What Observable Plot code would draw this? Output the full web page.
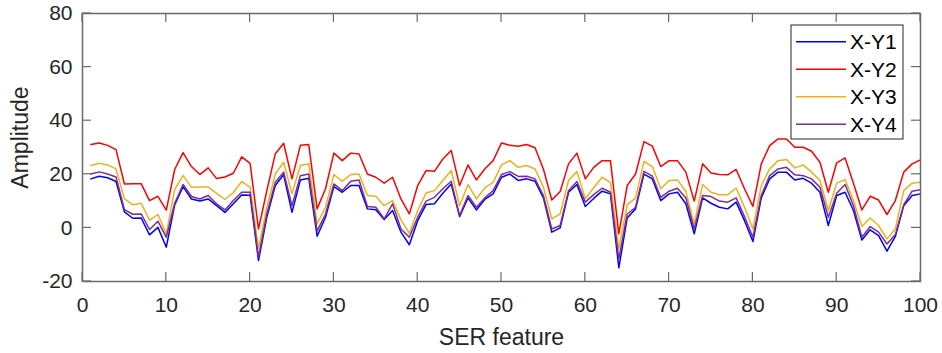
<!DOCTYPE html>
<html>
<head>
<meta charset="utf-8">
<script src="https://cdn.jsdelivr.net/npm/d3@7"></script>
<script src="https://cdn.jsdelivr.net/npm/@observablehq/plot@0.6"></script>
<style>
  html, body { margin: 0; padding: 0; background: #fff; }
  #chart { width: 942px; height: 353px; }
</style>
</head>
<body>
<div id="chart"></div>
<script>
const seriesNames = ["X-Y1", "X-Y2", "X-Y3", "X-Y4"];
const seriesColors = ["#0000FF", "#FF0000", "#EDB120", "#7E2F8E"];
const xTicks = [0, 10, 20, 30, 40, 50, 60, 70, 80, 90, 100];
const yTicks = [-20, 0, 20, 40, 60, 80];
const xLabel = "SER feature";
const yLabel = "Amplitude";

const y1 = [18.3,19.3,18.7,17.3,6.0,3.6,3.7,-2.6,0.2,-7.2,8.6,15.4,10.8,10.0,10.8,8.3,5.8,9.0,12.3,12.2,
-12.2,4.0,15.8,19.8,5.8,17.9,18.5,-3.1,4.0,15.4,13.3,15.8,15.8,7.1,6.8,3.1,6.5,-1.6,-6.3,2.7,
8.7,9.0,12.9,16.4,4.2,11.2,6.7,10.6,12.7,18.9,20.1,17.7,18.3,17.4,11.2,-1.6,0.0,13.3,16.2,8.0,
11.0,13.7,12.7,-14.9,3.7,7.1,20.1,18.3,10.2,12.7,13.3,9.0,-2.2,11.2,9.2,7.7,7.1,9.6,2.7,-5.1,
11.2,18.3,20.8,20.8,17.9,18.5,16.7,13.3,0.9,12.1,13.3,6.5,-4.5,-0.7,-2.9,-8.7,-3.2,8.3,12.1,12.7];

const y2 = [31.1,31.7,30.8,29.2,16.4,16.5,16.5,10.2,11.8,6.6,21.8,28.1,22.9,19.9,22.4,18.4,19.0,20.4,26.5,24.1,
-0.4,13.9,27.6,31.6,18.3,30.8,31.1,7.1,14.6,27.9,25.1,27.9,27.6,20.1,18.9,16.7,18.9,10.8,5.2,15.8,
21.4,21.1,25.7,28.9,15.8,23.5,17.9,22.0,25.1,31.7,30.8,30.5,31.1,29.9,22.0,10.4,13.6,23.9,27.9,18.3,
22.6,25.1,25.1,-2.2,15.8,20.1,32.2,30.5,22.9,25.1,25.1,20.8,10.0,23.9,20.5,19.9,19.8,21.8,14.6,8.0,
23.9,30.7,33.2,33.2,30.1,30.1,28.6,24.5,13.3,24.3,26.1,16.7,6.7,11.8,10.4,5.0,10.2,20.8,23.9,25.4];

const y3 = [23.3,24.1,23.5,22.0,10.9,8.6,9.2,2.9,5.0,-2.2,14.4,19.5,15.2,15.3,15.3,12.9,10.6,13.2,17.3,15.2,
-7.6,7.7,20.1,24.5,12.7,23.3,23.9,1.5,7.7,19.9,17.4,19.9,20.1,12.1,11.8,8.3,10.2,3.0,-2.0,6.5,
13.0,13.9,17.7,21.4,8.3,16.2,10.8,14.9,17.0,23.5,25.1,22.6,23.3,22.0,15.2,3.4,5.2,17.7,21.0,10.9,
15.0,18.9,17.0,-7.8,8.6,11.2,24.8,22.9,14.6,17.7,17.9,13.6,1.5,16.2,13.3,12.4,12.4,14.9,7.7,-0.4,
15.8,22.0,25.1,25.5,22.4,23.5,20.8,17.7,6.5,16.7,18.0,10.2,0.5,3.7,0.9,-4.1,-0.4,13.9,16.7,17.0];

const y4 = [20.1,20.9,20.1,19.0,6.8,5.1,5.2,-0.6,2.5,-3.5,9.2,16.2,11.7,10.8,12.1,9.0,6.7,10.2,13.3,13.3,
-10.9,5.2,17.0,20.8,8.3,19.5,20.1,-1.2,5.2,16.4,13.9,17.4,17.9,8.0,7.7,3.4,9.0,-0.4,-3.5,4.0,
10.0,11.4,14.6,17.4,4.6,12.1,7.7,11.2,13.9,19.9,21.0,19.2,19.3,18.3,12.1,-0.4,0.9,13.9,17.3,9.6,
12.4,14.8,13.3,-11.6,5.2,7.7,21.1,19.3,11.4,13.7,14.8,11.2,-0.4,12.1,11.7,10.0,9.6,11.2,4.2,-3.5,
12.1,19.5,22.0,22.6,19.8,19.5,18.3,15.2,4.0,12.9,16.2,8.3,-3.5,0.5,-1.6,-6.0,-2.5,8.7,13.7,14.2];

const allSeries = [y1, y2, y3, y4];
const data = [];
allSeries.forEach((vals, s) => {
  vals.forEach((v, i) => data.push({x: i + 1, y: v, series: seriesNames[s]}));
});

const axisColor = "#6a6a6a";
const textColor = "#262626";
const plainFormat = d => String(d);

const plot = Plot.plot({
  width: 942,
  height: 353,
  marginLeft: 82,
  marginRight: 22,
  marginTop: 13,
  marginBottom: 72,
  style: {fontFamily: "'Liberation Sans', Arial, sans-serif", fontSize: "21px", color: textColor, background: "#fff"},
  x: {domain: [0, 100], ticks: xTicks},
  y: {domain: [-20, 80], ticks: yTicks},
  color: {domain: seriesNames, range: seriesColors},
  marks: [
    ...seriesNames.map((name) =>
      Plot.line(data.filter(d => d.series === name), {x: "x", y: "y", stroke: "series", strokeWidth: 1.5})
    ),
    Plot.frame({stroke: axisColor, strokeWidth: 1.5}),
    Plot.axisX({ticks: xTicks, tickSize: 0, tickPadding: 16, label: null, fill: textColor, tickFormat: plainFormat}),
    Plot.axisY({ticks: yTicks, tickSize: 0, tickPadding: 10, label: null, fill: textColor, tickFormat: plainFormat}),
    Plot.text([xLabel], {text: d => d, frameAnchor: "bottom", dy: 56, fontSize: 23, fill: textColor, lineAnchor: "middle"}),
    Plot.text([yLabel], {text: d => d, frameAnchor: "left", dx: -62, dy: -10, rotate: -90, fontSize: 23, fill: textColor, lineAnchor: "middle", textAnchor: "middle"})
  ]
});

document.getElementById("chart").appendChild(plot);

const svg = d3.select(plot);

// Inward tick marks on all four sides (MATLAB box style), placed with Plot's own scales
const sx = plot.scale("x"), sy = plot.scale("y");
const [r0, r1] = sx.range;           // left/right pixel
const [b0, b1] = sy.range;           // bottom/top pixel
const tickLen = 9;
const tg = svg.append("g").attr("stroke", axisColor).attr("stroke-width", 1.2);
xTicks.forEach(t => {
  const px = sx.apply(t);
  tg.append("line").attr("x1", px).attr("x2", px).attr("y1", b0).attr("y2", b0 - tickLen);
  tg.append("line").attr("x1", px).attr("x2", px).attr("y1", b1).attr("y2", b1 + tickLen);
});
yTicks.forEach(t => {
  const py = sy.apply(t);
  tg.append("line").attr("y1", py).attr("y2", py).attr("x1", r0).attr("x2", r0 + tickLen);
  tg.append("line").attr("y1", py).attr("y2", py).attr("x1", r1).attr("x2", r1 - tickLen);
});

// Legend (MATLAB-style box, top-right inside axes)
const lg = svg.append("g").attr("class", "legend");
const lx = 791, ly = 25, lw = 112, lh = 114, rowH = 27.5, firstRow = 41.7;
lg.append("rect").attr("x", lx).attr("y", ly).attr("width", lw).attr("height", lh)
  .attr("fill", "#fff").attr("stroke", textColor).attr("stroke-width", 1);
seriesNames.forEach((name, i) => {
  const yy = firstRow + i * rowH;
  lg.append("line").attr("x1", 796).attr("x2", 846).attr("y1", yy).attr("y2", yy)
    .attr("stroke", seriesColors[i]).attr("stroke-width", 1.5);
  lg.append("text").attr("x", 850).attr("y", yy).attr("dy", "0.35em")
    .attr("text-anchor", "start")
    .attr("font-size", 21).attr("fill", "#000").text(name);
});
</script>
</body>
</html>
